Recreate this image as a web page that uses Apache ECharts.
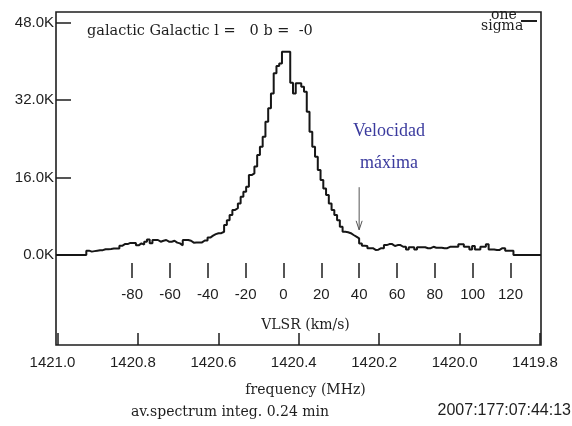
<!DOCTYPE html>
<html>
<head>
<meta charset="utf-8">
<script src="https://cdn.jsdelivr.net/npm/echarts@6/dist/echarts.min.js"></script>
<style>
  html, body { margin: 0; padding: 0; background: #fff; }
  #chart { width: 572px; height: 426px; }
</style>
</head>
<body>
<div id="chart"></div>
<script>
// Antenna temperature (K) per spectrometer channel, low frequency edge on the right
const channelTemps = [
  0, 0, 0, 0, 0, 0, 0, 0, 0, 0, 0,
  900, 700, 800, 900, 1000, 1000, 1200, 1200, 1250, 1350,
  1350, 1350, 1900, 2250, 2250, 2500, 2500, 2500, 2000, 2400,
  2150, 2750, 3200, 2450, 3100, 3100, 2750, 2950, 3100, 2750,
  2750, 2950, 2550, 2400, 2000, 3100, 3100, 2950, 2550, 2600,
  2600, 2600, 3000, 3000, 3600, 4000, 4300, 4500, 4500, 4800,
  6200, 7200, 8250, 9300, 9650, 10650, 12050, 13050, 14100, 16500,
  16850, 18250, 20650, 22350, 24400, 27500, 30300, 33350, 37500, 39000,
  39550, 41950, 41950, 41950, 35550, 33350, 35450, 35450, 34750, 33700,
  29600, 25450, 22350, 20300, 17550, 15500, 13750, 12400, 10650, 9300,
  8250, 7200, 5850, 4800, 4700, 4500, 4130, 3800, 3450, 2400,
  1900, 1850, 1400, 1400, 1050, 1100, 1400, 1400, 2050, 2250,
  2250, 1850, 2050, 2050, 1700, 1700, 1150, 1600, 1600, 1150,
  1600, 1600, 1600, 1400, 1400, 1700, 1500, 1500, 1500, 1400,
  1400, 1700, 1700, 1700, 1700, 2200, 2200, 1700, 1700, 1150,
  1850, 1150, 1150, 1700, 1700, 2200, 1150, 1150, 1050, 1050,
  1400, 1400, 900, 900, 900,
  0, 0, 0, 0, 0, 0, 0, 0, 0, 0
];
const velocityTicks = [-80, -60, -40, -20, 0, 20, 40, 60, 80, 100, 120];
const frequencyTicks = [1421.0, 1420.8, 1420.6, 1420.4, 1420.2, 1420.0, 1419.8];
const temperatureTicks = [0, 16000, 32000, 48000];
const velocityRange = [-120.27, 136.14];
const frequencyRange = [1419.7975, 1421.0037];
const temperatureRange = [-18580, 50170];
const arrowVelocity = 40;
const arrowSpan = [14000, 5200];

// channel edges: one extra edge so the last channel gets its full width
const channelEdges = channelTemps.map((_, i) => i).concat([channelTemps.length]);
const stepValues = channelTemps.concat([channelTemps[channelTemps.length - 1]]);

const ink = '#1e1e1e';
const sans = 'Liberation Sans, Arial, sans-serif';
const serif = 'DejaVu Serif, serif';

const chart = echarts.init(document.getElementById('chart'), null, { renderer: 'canvas' });

chart.setOption({
  animation: false,
  backgroundColor: '#fff',
  grid: {
    left: 56, right: 31, top: 12, bottom: 81,
    show: true, borderColor: ink, borderWidth: 1.6, backgroundColor: 'transparent'
  },
  xAxis: [
    { type: 'category', data: channelEdges, boundaryGap: false, show: false, position: 'top', axisLine: { onZero: false } },
    {
      type: 'value', position: 'bottom', offset: -67,
      min: velocityRange[0], max: velocityRange[1],
      axisLine: { show: false, onZero: false }, splitLine: { show: false },
      axisTick: { customValues: velocityTicks, inside: true, length: 15, lineStyle: { color: ink, width: 1.5 } },
      axisLabel: { customValues: velocityTicks, margin: 9, fontSize: 15, fontFamily: sans, color: ink },
      name: 'VLSR (km/s)', nameLocation: 'middle', nameGap: 40,
      nameTextStyle: { fontFamily: serif, fontSize: 14, color: ink, padding: [0, 0, 0, 14] }
    },
    {
      type: 'value', position: 'bottom', inverse: true,
      min: frequencyRange[0], max: frequencyRange[1],
      axisLine: { show: false, onZero: false }, splitLine: { show: false },
      axisTick: { customValues: frequencyTicks, inside: true, length: 12, lineStyle: { color: ink, width: 1.5 } },
      axisLabel: {
        customValues: frequencyTicks, margin: 10, fontSize: 15, fontFamily: sans, color: ink,
        formatter: v => v.toFixed(1), padding: [0, 10, 0, 0]
      },
      name: 'frequency (MHz)', nameLocation: 'middle', nameGap: 38,
      nameTextStyle: { fontFamily: serif, fontSize: 14, color: ink, padding: [0, 0, 0, 14] }
    }
  ],
  yAxis: [{
    type: 'value', position: 'left', min: temperatureRange[0], max: temperatureRange[1],
    axisLine: { show: false, onZero: false }, splitLine: { show: false },
    axisTick: { customValues: temperatureTicks, inside: true, length: 15, lineStyle: { color: ink, width: 1.5 } },
    axisLabel: {
      customValues: temperatureTicks, margin: 2, fontSize: 15, fontFamily: sans, color: ink,
      formatter: v => (v / 1000).toFixed(1) + 'K',
      verticalAlign: 'middle', padding: [0, 0, 12, 0]
    }
  }],
  series: [{
    type: 'line', xAxisIndex: 0, yAxisIndex: 0,
    data: stepValues, step: 'end', symbol: 'none',
    lineStyle: { color: '#161616', width: 2 }
  }]
});

// annotations: header, one-sigma bar, arrow marking the velocity limit, footer
const ax = chart.convertToPixel({ xAxisIndex: 1 }, arrowVelocity);
const ay0 = chart.convertToPixel({ yAxisIndex: 0 }, arrowSpan[0]);
const ay1 = chart.convertToPixel({ yAxisIndex: 0 }, arrowSpan[1]);

chart.setOption({
  graphic: [
    { type: 'text', left: 87, top: 24, style: { text: 'galactic Galactic l =   0 b =  -0', font: '14.5px ' + serif, fill: ink } },
    { type: 'text', left: 491, top: 8, z: -1, style: { text: 'one', font: '14px ' + serif, fill: ink } },
    { type: 'text', left: 481, top: 19, style: { text: 'sigma', font: '14px ' + serif, fill: ink } },
    { type: 'line', shape: { x1: 521, y1: 21, x2: 537, y2: 21 }, style: { stroke: ink, lineWidth: 2 } },
    { type: 'text', left: 353, top: 122, style: { text: 'Velocidad', font: '18px Liberation Serif, serif', fill: '#3b3b9e' } },
    { type: 'text', left: 360, top: 154, style: { text: 'máxima', font: '18px Liberation Serif, serif', fill: '#3b3b9e' } },
    { type: 'line', shape: { x1: ax, y1: ay0, x2: ax, y2: ay1 }, style: { stroke: '#555', lineWidth: 1 } },
    { type: 'polyline', shape: { points: [[ax - 3, ay1 - 9], [ax, ay1], [ax + 3, ay1 - 9]] }, style: { stroke: '#555', lineWidth: 1, fill: null } },
    { type: 'text', left: 131, top: 405, style: { text: 'av.spectrum integ. 0.24 min', font: '14px ' + serif, fill: ink } },
    { type: 'text', right: 1, top: 403, style: { text: '2007:177:07:44:13', font: '16px ' + sans, fill: ink } }
  ]
});
</script>
</body>
</html>
